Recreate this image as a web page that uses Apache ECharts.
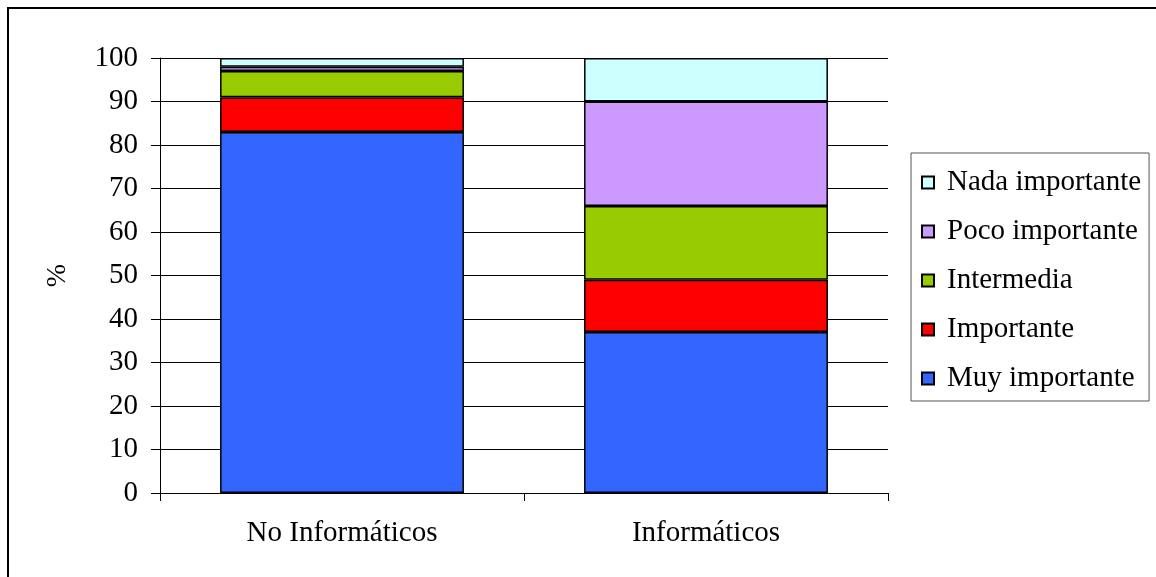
<!DOCTYPE html>
<html>
<head>
<meta charset="utf-8">
<script src="https://cdn.jsdelivr.net/npm/echarts@6/dist/echarts.min.js"></script>
<style>
  html, body { margin: 0; padding: 0; background: #fff; }
  #main { width: 1156px; height: 577px; }
</style>
</head>
<body>
<div id="main"></div>
<script>
const categories = ['No Informáticos', 'Informáticos']
const seriesNames = ['Muy importante', 'Importante', 'Intermedia', 'Poco importante', 'Nada importante']
const muyImportante = [83, 37]
const importante = [8, 12]
const intermedia = [6, 17]
const pocoImportante = [1, 24]
const nadaImportante = [2, 10]
const colors = ['#3366ff', '#ff0000', '#99cc00', '#cc99ff', '#ccffff']

const font = 'Liberation Serif'
const values = [muyImportante, importante, intermedia, pocoImportante, nadaImportante]

const chart = echarts.init(document.getElementById('main'))
const option = {
  animation: false,
  textStyle: { fontFamily: font, color: '#000' },
  graphic: [{
    type: 'rect',
    shape: { x: 8, y: 8, width: 1160, height: 580 },
    style: { fill: 'none', stroke: '#000', lineWidth: 2 },
    z: 100
  }],
  grid: { left: 160, right: 268, top: 58, bottom: 84 },
  legend: {
    orient: 'vertical',
    left: 911,
    top: 153,
    width: 235,
    padding: [15, 8, 8, 10],
    itemGap: 20,
    itemWidth: 12,
    itemHeight: 12,
    icon: 'rect',
    borderColor: '#555',
    borderWidth: 1,
    backgroundColor: '#fff',
    textStyle: { fontFamily: font, fontSize: 29, lineHeight: 29, color: '#000', padding: [0, 0, 0, 8] },
    data: seriesNames.slice().reverse()
  },
  xAxis: {
    type: 'category',
    data: categories,
    axisLine: { lineStyle: { color: '#000', width: 1 } },
    axisTick: { show: true, length: 8, lineStyle: { color: '#000' } },
    axisLabel: { fontFamily: font, fontSize: 29, color: '#000', margin: 26 }
  },
  yAxis: {
    type: 'value',
    min: 0,
    max: 100,
    interval: 10,
    name: '%',
    nameLocation: 'middle',
    nameGap: 88,
    nameTextStyle: { fontFamily: font, fontSize: 28, color: '#000' },
    axisLine: { show: true, lineStyle: { color: '#000', width: 1 } },
    axisTick: { show: true, length: 9, lineStyle: { color: '#000' } },
    axisLabel: { fontFamily: font, fontSize: 29, color: '#000', margin: 22 },
    splitLine: { lineStyle: { color: '#000', width: 1 } }
  },
  series: seriesNames.map((name, i) => ({
    name,
    type: 'bar',
    stack: 'total',
    barCategoryGap: '33%',
    data: values[i],
    itemStyle: { color: colors[i], borderColor: '#000', borderWidth: 1.5 }
  }))
}
chart.setOption(option)
</script>
</body>
</html>
